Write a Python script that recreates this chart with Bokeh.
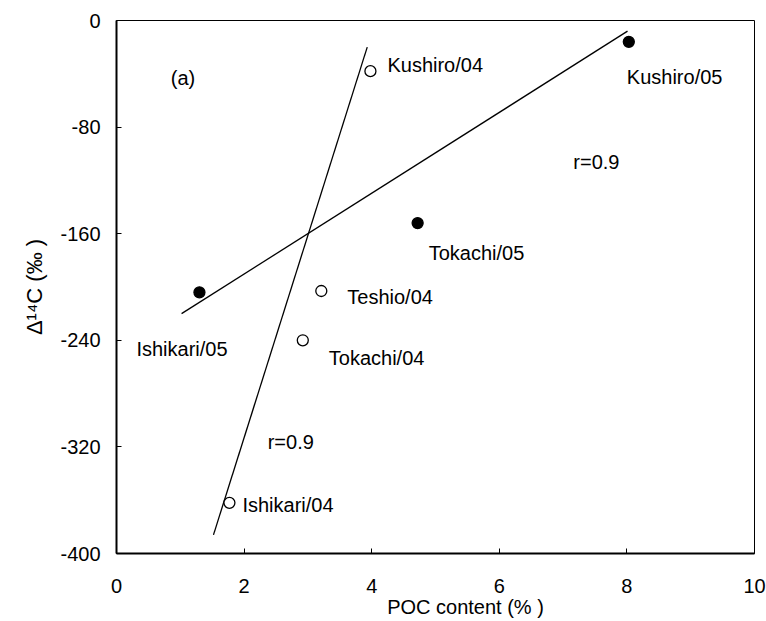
from bokeh.plotting import figure
from bokeh.models import Range1d, Label, ColumnDataSource
from bokeh.core.properties import value
from bokeh.embed import file_html
from bokeh.resources import INLINE

# ---------------- data ----------------
x_ticks = [0, 2, 4, 6, 8, 10]
y_ticks = [0, -80, -160, -240, -320, -400]
y_tick_labels = ["0", "-80", "-160", "-240", "-320", "-400"]

sites_04 = ["Kushiro/04", "Teshio/04", "Tokachi/04", "Ishikari/04"]
poc_04 = [3.98, 3.21, 2.92, 1.77]
d14c_04 = [-38, -203, -240, -362]

sites_05 = ["Kushiro/05", "Tokachi/05", "Ishikari/05"]
poc_05 = [8.03, 4.72, 1.30]
d14c_05 = [-16, -152, -204]

fit04_x = [1.52, 3.93]
fit04_y = [-386, -20]
fit05_x = [1.02, 8.01]
fit05_y = [-220, -8]

r_text = "r=0.9"
panel_text = "(a)"
x_title = "POC content (% )"
y_title = "Δ\u00b9\u2074C (\u2030 )"

# ---------------- layout / style ----------------
FONT = "Liberation Sans"
FS = "20px"

# label pixel offsets relative to each point (dx right, dy down)
off_04 = {"Kushiro/04": (17, -6), "Teshio/04": (26, 6),
          "Tokachi/04": (26, 18), "Ishikari/04": (13, 2)}
off_05 = {"Kushiro/05": (-2, 35), "Tokachi/05": (11, 30),
          "Ishikari/05": (-63, 57)}

p = figure(width=766, height=621, x_range=Range1d(0, 10), y_range=Range1d(-400, 0),
           output_backend="svg", toolbar_location=None,
           min_border_left=116, min_border_right=12, min_border_top=20, min_border_bottom=68)
p.background_fill_color = "white"
p.border_fill_color = "white"
p.grid.visible = False
p.outline_line_color = "black"
p.outline_line_width = 1

for ax, ticks in ((p.xaxis, x_ticks), (p.yaxis, y_ticks)):
    ax.ticker = ticks
    ax.major_tick_in = 5
    ax.major_tick_out = 0
    ax.minor_tick_line_color = None
    ax.axis_line_width = 2
    ax.axis_line_color = "black"
    ax.major_tick_line_color = "black"
    ax.major_tick_line_width = 1
    ax.major_label_text_font = FONT
    ax.major_label_text_font_size = FS
    ax.major_label_text_color = "black"
    ax.axis_label_text_font = FONT
    ax.axis_label_text_font_size = FS
    ax.axis_label_text_font_style = "normal"
    ax.axis_label_text_color = "black"

p.yaxis.major_label_overrides = {t: s for t, s in zip(y_ticks, y_tick_labels)}
p.xaxis.major_label_standoff = 25
p.yaxis.major_label_standoff = 16
p.yaxis.axis_label = y_title
p.yaxis.axis_label_text_font_size = "22px"
p.yaxis.axis_label_standoff = 10
# title sits a little right of the frame centre in the reference
p.xaxis.axis_label = "\u2003\u2003\u2003" + x_title
p.xaxis.axis_label_standoff = 0

# regression lines
p.line(fit04_x, fit04_y, line_color="black", line_width=1.3)
p.line(fit05_x, fit05_y, line_color="black", line_width=1.3)

# points
p.scatter(poc_04, d14c_04, size=11, marker="circle", fill_color="white",
          line_color="black", line_width=1.3)
p.scatter(poc_05, d14c_05, size=11, marker="circle", fill_color="black",
          line_color="black", line_width=1.3)

src_lab = ColumnDataSource(dict(
    x=poc_04 + poc_05,
    y=d14c_04 + d14c_05,
    t=sites_04 + sites_05,
    dx=[off_04[s][0] for s in sites_04] + [off_05[s][0] for s in sites_05],
    dy=[off_04[s][1] for s in sites_04] + [off_05[s][1] for s in sites_05],
))
p.text(x="x", y="y", text="t", x_offset="dx", y_offset="dy", source=src_lab,
       text_font=value(FONT), text_font_size=FS, text_align="left",
       text_baseline="middle", text_color="black")

for txt, lx, ly in ((panel_text, 0.85, -43), (r_text, 7.16, -106), (r_text, 2.37, -316)):
    p.add_layout(Label(x=lx, y=ly, text=txt, text_font=FONT, text_font_size=FS,
                       text_align="left", text_baseline="middle", text_color="black"))

open("out.html", "w").write(file_html(p, INLINE))
